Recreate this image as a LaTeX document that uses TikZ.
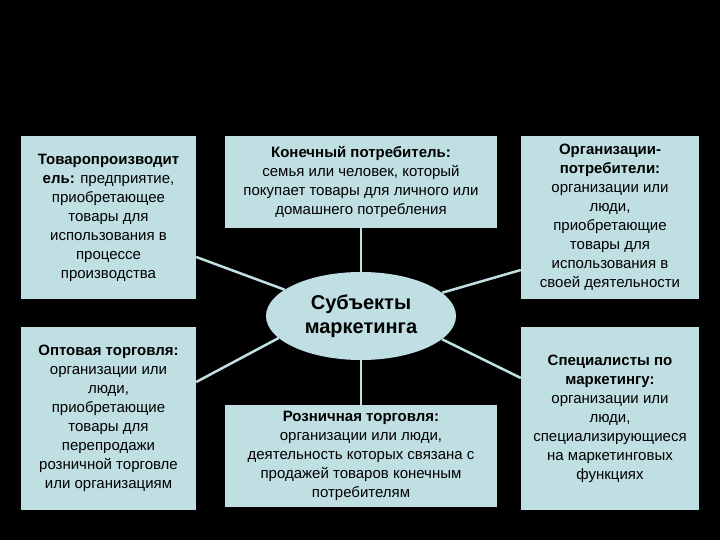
\documentclass[tikz,border=0pt]{standalone}
\usepackage{fontspec}
\setmainfont{Liberation Sans}
\usetikzlibrary{shapes.geometric}
\definecolor{boxblue}{RGB}{192,223,227}
\tikzset{
  infobox/.style={fill=boxblue, draw=none, inner sep=0pt, align=center,
    font=\fontsize{15}{19}\selectfont, text=black},
  hub/.style={ellipse, fill=boxblue, draw=none, inner sep=0pt, align=center,
    minimum width=190pt, minimum height=88pt,
    font=\bfseries\fontsize{20}{24}\selectfont, text=black},
  link/.style={draw=boxblue, line width=2.5pt}
}
\begin{document}
\begin{tikzpicture}[x=1pt,y=1pt]
\useasboundingbox (0,0) rectangle (720,540);
\fill[black] (0,0) rectangle (720,540);

\node[infobox, minimum width=175pt, minimum height=163pt] (tl) at (108.5,322.5)
  {\textbf{Товаропроизводит}\\\textbf{ель:} предприятие,\\приобретающее\\товары для\\использования в\\процессе\\производства};
\node[infobox, minimum width=272pt, minimum height=92pt] (tm) at (361,358)
  {\textbf{Конечный потребитель:}\\семья или человек, который\\покупает товары для личного или\\домашнего потребления};
\node[infobox, minimum width=178pt, minimum height=163pt] (tr) at (610,322.5)
  {\textbf{Организации-}\\\textbf{потребители:}\\организации или\\люди,\\приобретающие\\товары для\\использования в\\своей деятельности};
\node[infobox, minimum width=175pt, minimum height=183pt] (bl) at (108.5,121.5)
  {\textbf{Оптовая торговля:}\\организации или\\люди,\\приобретающие\\товары для\\перепродажи\\розничной торговле\\или организациям};
\node[infobox, minimum width=272pt, minimum height=102pt] (bm) at (361,84)
  {\textbf{Розничная торговля:}\\организации или люди,\\деятельность которых связана с\\продажей товаров конечным\\потребителям};
\node[infobox, minimum width=178pt, minimum height=183pt] (br) at (610,121.5)
  {\textbf{Специалисты по}\\\textbf{маркетингу:}\\организации или\\люди,\\специализирующиеся\\на маркетинговых\\функциях};

\node[hub] (e) at (361,224) {Субъекты\\маркетинга};

\draw[link] (tm.south) -- (e.north);
\draw[link] (e.south) -- (bm.north);
\draw[link] ([yshift=-39.5pt]tl.east) -- (e.161);
\draw[link] ([yshift=-52.5pt]tr.west) -- (e.16);
\draw[link] ([yshift=36.5pt]bl.east) -- (e.195);
\draw[link] ([yshift=40.5pt]br.west) -- (e.344);
\end{tikzpicture}
\end{document}
